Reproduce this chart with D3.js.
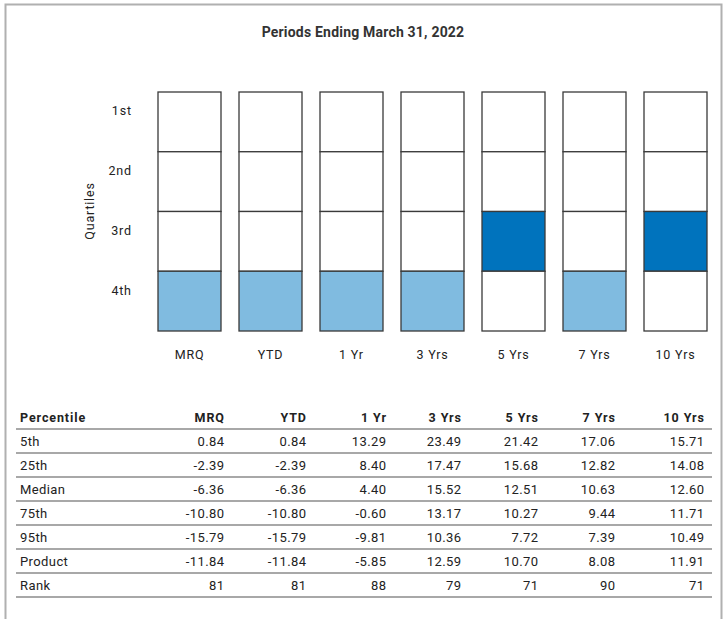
<!DOCTYPE html>
<html>
<head>
<meta charset="utf-8">
<script src="https://cdn.jsdelivr.net/npm/d3@7"></script>
<style>
  body { margin: 0; background: #fff; }
  svg text { font-family: Roboto, "Noto Sans", sans-serif; fill: #222; }
</style>
</head>
<body>
<svg id="chart" width="726" height="619"></svg>
<script>
// periods shown on the chart and in the table
const periods = ["MRQ", "YTD", "1 Yr", "3 Yrs", "5 Yrs", "7 Yrs", "10 Yrs"];
const quartiles = ["1st", "2nd", "3rd", "4th"];
const rowLabels = ["5th", "25th", "Median", "75th", "95th", "Product", "Rank"];

const p5      = [0.84, 0.84, 13.29, 23.49, 21.42, 17.06, 15.71];
const p25     = [-2.39, -2.39, 8.40, 17.47, 15.68, 12.82, 14.08];
const median  = [-6.36, -6.36, 4.40, 15.52, 12.51, 10.63, 12.60];
const p75     = [-10.80, -10.80, -0.60, 13.17, 10.27, 9.44, 11.71];
const p95     = [-15.79, -15.79, -9.81, 10.36, 7.72, 7.39, 10.49];
const product = [-11.84, -11.84, -5.85, 12.59, 10.70, 8.08, 11.91];
const rank    = [81, 81, 88, 79, 71, 90, 71];

const svg = d3.select("#chart");

// outer frame (open at the bottom, runs off the page)
svg.append("path")
  .attr("d", "M5.5,640V4.5H721.5V640")
  .attr("fill", "none")
  .attr("stroke", "#b0b0b0")
  .attr("stroke-width", 2);

svg.append("text")
  .attr("x", 363).attr("y", 37)
  .attr("text-anchor", "middle")
  .attr("font-size", 14)
  .attr("font-weight", "bold")
  .attr("letter-spacing", 0.2)
  .style("fill", "#333")
  .text("Periods Ending March 31, 2022");

const x = d3.scaleBand().domain(periods).range([149, 716])
  .paddingInner(18 / 81).paddingOuter(1 / 9);
const y = d3.scaleBand().domain(quartiles).range([92, 331]);

const quartileOf = r => quartiles[Math.min(3, Math.ceil(r / 25) - 1)];
const fills = { "1st": "#0a4f8a", "2nd": "#3b8fd0", "3rd": "#0073bd", "4th": "#80bbe0" };

const cells = [];
periods.forEach((p, i) => {
  quartiles.forEach(q => cells.push({ p, q, on: quartileOf(rank[i]) === q }));
});

svg.append("g").selectAll("rect")
  .data(cells)
  .join("rect")
  .attr("x", d => x(d.p))
  .attr("y", d => y(d.q))
  .attr("width", x.bandwidth())
  .attr("height", y.bandwidth())
  .attr("fill", d => d.on ? fills[d.q] : "#fff")
  .attr("stroke", "#3a3a3a")
  .attr("stroke-width", 1.3);

const ls = 0.8; // renderer in the original spaces glyphs a bit wider

// quartile labels (sit a little above each band's middle)
svg.append("g").selectAll("text")
  .data(quartiles)
  .join("text")
  .attr("x", 131 + ls)
  .attr("y", d => y(d) + y.bandwidth() / 2 - 11)
  .attr("dy", "0.35em")
  .attr("text-anchor", "end")
  .attr("font-size", 12.5)
  .attr("letter-spacing", ls)
  .text(d => d);

svg.append("text")
  .attr("transform", "translate(94,211) rotate(-90)")
  .attr("text-anchor", "middle")
  .attr("font-size", 12.5)
  .attr("letter-spacing", ls)
  .text("Quartiles");

svg.append("g").selectAll("text")
  .data(periods)
  .join("text")
  .attr("x", d => x(d) + x.bandwidth() / 2)
  .attr("y", 355)
  .attr("dy", "0.35em")
  .attr("text-anchor", "middle")
  .attr("font-size", 12.5)
  .attr("letter-spacing", ls)
  .text(d => d);

// table
const colRight = d3.scaleOrdinal().domain(periods).range([224, 306, 386, 461, 538, 615, 704]);
const rows = [p5, p25, median, p75, p95, product, rank];
const rowY = d3.scaleBand().domain(["head"].concat(rowLabels)).range([405, 597]);
const fmt = (v, r) => r === "Rank" ? String(v) : v.toFixed(2);
const hls = 0.9, bls = 0.4;

const head = svg.append("g").attr("font-weight", "bold").attr("font-size", 12.5)
  .attr("letter-spacing", hls);
head.append("text")
  .attr("x", 20).attr("y", rowY("head") + rowY.bandwidth() / 2 + 1)
  .attr("dy", "0.35em").text("Percentile");
head.selectAll("text.h")
  .data(periods)
  .join("text").attr("class", "h")
  .attr("x", d => colRight(d) + hls)
  .attr("y", rowY("head") + rowY.bandwidth() / 2 + 1)
  .attr("dy", "0.35em")
  .attr("text-anchor", "end")
  .text(d => d);

const row = svg.append("g").selectAll("g")
  .data(rowLabels)
  .join("g")
  .attr("transform", d => `translate(0,${rowY(d)})`);

row.append("line")
  .attr("x1", 16).attr("x2", 712)
  .attr("y1", 0).attr("y2", 0)
  .attr("stroke", "#a8a8a8").attr("stroke-width", 2);

row.append("text")
  .attr("x", 20).attr("y", rowY.bandwidth() / 2)
  .attr("dy", "0.35em")
  .attr("font-size", 13)
  .attr("letter-spacing", bls)
  .text(d => d);

row.selectAll("text.v")
  .data((d, i) => rows[i].map((v, j) => ({ v, p: periods[j], r: d })))
  .join("text").attr("class", "v")
  .attr("x", d => colRight(d.p) + bls)
  .attr("y", rowY.bandwidth() / 2)
  .attr("dy", "0.35em")
  .attr("text-anchor", "end")
  .attr("font-size", 13)
  .attr("letter-spacing", bls)
  .text(d => fmt(d.v, d.r));

svg.append("line")
  .attr("x1", 16).attr("x2", 712)
  .attr("y1", 597).attr("y2", 597)
  .attr("stroke", "#a8a8a8").attr("stroke-width", 2);
</script>
</body>
</html>
